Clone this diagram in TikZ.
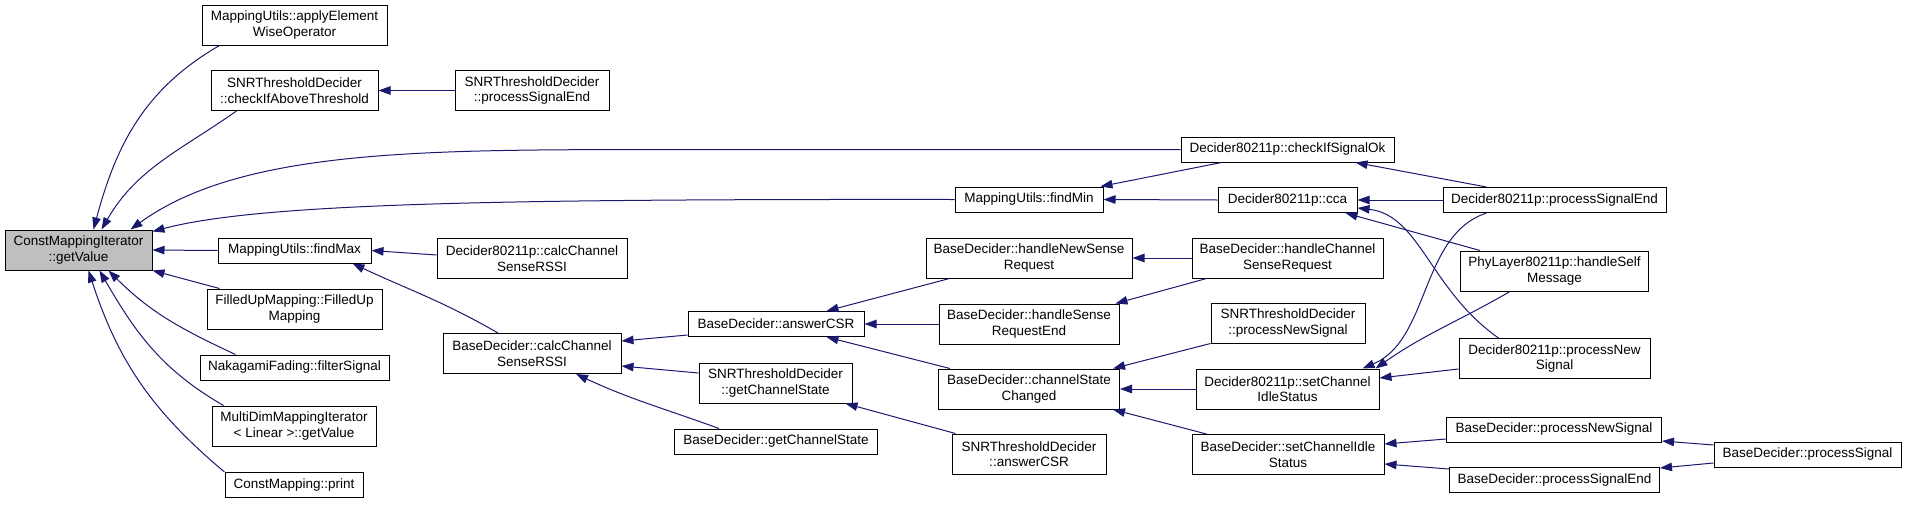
\documentclass[tikz,border=0pt]{standalone}
\usepackage{fontspec}
\setmainfont{Liberation Sans}
\usepackage{tikz}
\usetikzlibrary{arrows.meta}
\definecolor{edgeblue}{RGB}{25, 25, 112}
\definecolor{curgray}{RGB}{191, 191, 191}

\tikzset{
  func/.style={draw=black, line width=1pt, fill=white, align=center, inner sep=0pt,
    minimum height=25pt, font=\fontsize{13.5}{15.5}\selectfont},
  func2/.style={func, minimum height=40pt},
  call/.style={->, draw=edgeblue, line width=1pt}
}

\begin{document}
\begin{tikzpicture}[x=1pt, y=-1pt, >={Triangle[length=12pt,width=8.5pt]}]
    \useasboundingbox (0,0) rectangle (1907,504);

    % Current function
    \node[func2, fill=curgray, minimum width=147pt] (cmi) at (78.5,250) {ConstMappingIterator\\::getValue};

    % Direct callers
    \node[func2, minimum width=185pt] (aewo) at (294.5,25) {MappingUtils::applyElement\\WiseOperator};
    \node[func2, minimum width=167pt] (caat) at (294.5,90.5) {SNRThresholdDecider\\::checkIfAboveThreshold};
    \node[func, minimum width=153pt] (fmax) at (294.5,250.5) {MappingUtils::findMax};
    \node[func2, minimum width=175pt] (fum) at (294.5,309) {FilledUpMapping::FilledUp\\Mapping};
    \node[func, minimum width=189pt] (naka) at (294.5,367.5) {NakagamiFading::filterSignal};
    \node[func2, minimum width=164pt] (mdmi) at (294,426) {MultiDimMappingIterator\\< Linear >::getValue};
    \node[func, minimum width=138pt] (cmp) at (294,485) {ConstMapping::print};

    % Third column
    \node[func2, minimum width=154pt] (snrpse) at (532,90.5) {SNRThresholdDecider\\::processSignalEnd};
    \node[func2, minimum width=190pt] (dccs) at (532,258.5) {Decider80211p::calcChannel\\SenseRSSI};
    \node[func2, minimum width=178pt] (bccs) at (532,353.5) {BaseDecider::calcChannel\\SenseRSSI};

    % Fourth column
    \node[func, minimum width=176pt] (acsr) at (776,324) {BaseDecider::answerCSR};
    \node[func2, minimum width=153pt] (sgcs) at (775.5,383) {SNRThresholdDecider\\::getChannelState};
    \node[func, minimum width=203pt] (bgcs) at (776,441.5) {BaseDecider::getChannelState};

    % Fifth column
    \node[func, minimum width=148pt] (fmin) at (1029,199.5) {MappingUtils::findMin};
    \node[func2, minimum width=206pt] (hnsr) at (1029,258) {BaseDecider::handleNewSense\\Request};
    \node[func2, minimum width=180pt] (hsre) at (1029,324) {BaseDecider::handleSense\\RequestEnd};
    \node[func2, minimum width=181pt] (csc) at (1029,389) {BaseDecider::channelState\\Changed};
    \node[func2, minimum width=154pt] (sacsr) at (1029,454) {SNRThresholdDecider\\::answerCSR};

    % Sixth column
    \node[func, minimum width=213pt] (cso) at (1287.5,149.5) {Decider80211p::checkIfSignalOk};
    \node[func, minimum width=139pt] (cca) at (1287.5,200) {Decider80211p::cca};
    \node[func2, minimum width=191pt] (hcsr) at (1287.5,258) {BaseDecider::handleChannel\\SenseRequest};
    \node[func2, minimum width=154pt] (spns) at (1288,323) {SNRThresholdDecider\\::processNewSignal};
    \node[func2, minimum width=183pt] (dscis) at (1287.5,389) {Decider80211p::setChannel\\IdleStatus};
    \node[func2, minimum width=192pt] (bscis) at (1288,454.5) {BaseDecider::setChannelIdle\\Status};

    % Seventh column
    \node[func, minimum width=223pt] (dpse) at (1554.5,200) {Decider80211p::processSignalEnd};
    \node[func2, minimum width=188pt] (hsm) at (1554.5,271) {PhyLayer80211p::handleSelf\\Message};
    \node[func2, minimum width=191pt] (dpns) at (1554.5,358.5) {Decider80211p::processNew\\Signal};
    \node[func, minimum width=215pt] (bpns) at (1554,429.5) {BaseDecider::processNewSignal};
    \node[func, minimum width=210pt] (bpse) at (1554.5,480) {BaseDecider::processSignalEnd};

    % Last column
    \node[func, minimum width=187pt] (bps) at (1807.5,454.5) {BaseDecider::processSignal};

    % Calls into getValue
    \draw[call] ([xshift=18pt]aewo.south west) to[out=-150,in=75] ([xshift=15pt]cmi.north);
    \draw[call] ([xshift=26pt]caat.south west) to[out=-145,in=60] ([xshift=23pt]cmi.north);
    \draw[call] (cso.west) -- (640,149.5) .. controls (420,150) and (240,150) .. ([xshift=-22pt]cmi.north east);
    \draw[call] (fmin.west) .. controls (500,199) and (260,203) .. ([yshift=-2pt]cmi.north east);
    \draw[call] (fmax.west) -- (cmi.east);
    \draw[call] ([xshift=13pt]fum.north west) -- (cmi.south east);
    \draw[call] ([xshift=36pt]naka.north west) to[out=155,in=-45] ([xshift=30pt]cmi.south);
    \draw[call] ([xshift=12pt]mdmi.north west) to[out=150,in=-60] ([xshift=21pt]cmi.south);
    \draw[call] (cmp.north west) to[out=140,in=-72] ([xshift=10pt]cmi.south);

    % Second level
    \draw[call] (snrpse.west) -- (caat.east);
    \draw[call] ([yshift=3.5pt]dccs.west) -- (fmax.east);
    \draw[call] ([xshift=-34pt]bccs.north) to[out=150,in=-25] ([xshift=-19pt]fmax.south east);
    \draw[call] ([xshift=41pt]cso.south west) -- ([xshift=-3pt]fmin.north east);
    \draw[call] (cca.west) -- (fmin.east);

    % BaseDecider chain
    \draw[call] ([yshift=-11pt]acsr.west) -- ([yshift=12.5pt]bccs.east);
    \draw[call] ([yshift=10pt]sgcs.west) -- ([yshift=-12.5pt]bccs.east);
    \draw[call] ([xshift=45pt]bgcs.north west) to[out=160,in=-25] ([xshift=44pt]bccs.south);
    \draw[call] ([xshift=24pt]hnsr.south west) -- ([xshift=-38pt]acsr.north east);
    \draw[call] (hsre.west) -- (acsr.east);
    \draw[call] ([xshift=12pt]csc.north west) -- ([xshift=-38pt]acsr.south east);
    \draw[call] ([xshift=4pt]sacsr.north west) -- ([xshift=-7pt]sgcs.south east);
    \draw[call] (hcsr.west) -- (hnsr.east);
    \draw[call] ([xshift=15pt]hcsr.south west) -- ([xshift=-4pt]hsre.north east);
    \draw[call] (spns.south west) -- ([xshift=-7pt]csc.north east);
    \draw[call] (dscis.west) -- (csc.east);
    \draw[call] ([xshift=15pt]bscis.north west) -- ([xshift=-7pt]csc.south east);

    % Decider80211p callers
    \draw[call] ([xshift=44pt]dpse.north west) -- ([xshift=-39pt]cso.south east);
    \draw[call] (dpse.west) -- (cca.east);
    \draw[call] ([xshift=20pt]hsm.north west) -- ([xshift=-12pt]cca.south east);
    \draw[call] ([xshift=40pt]dpns.north west) .. controls (1430,290) and (1420,215) .. ([yshift=-8pt]cca.east);
    \draw[call] ([xshift=44pt]dpse.south west) .. controls (1420,235) and (1430,340) .. ([xshift=-17pt]dscis.north east);
    \draw[call] ([xshift=50pt]hsm.south west) to[out=-150,in=35] ([xshift=-4pt]dscis.north east);
    \draw[call] ([yshift=-10.5pt]dpns.west) -- ([yshift=11pt]dscis.east);
    \draw[call] ([yshift=-9.5pt]bpns.west) -- ([yshift=10.5pt]bscis.east);
    \draw[call] ([yshift=11pt]bpse.west) -- ([yshift=-9.5pt]bscis.east);

    % processSignal
    \draw[call] ([yshift=9.5pt]bps.west) -- ([yshift=-11.5pt]bpns.east);
    \draw[call] ([yshift=-8.5pt]bps.west) -- ([yshift=12pt]bpse.east);
\end{tikzpicture}
\end{document}
